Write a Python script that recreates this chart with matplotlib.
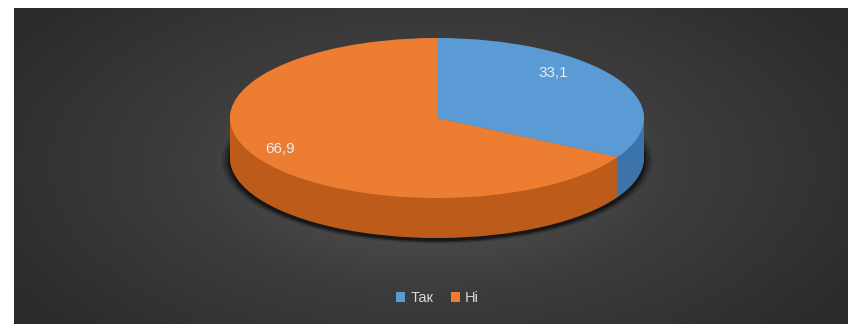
import numpy as np
import matplotlib.pyplot as plt
from matplotlib.colors import LinearSegmentedColormap

# data
labels = ['Так', 'Ні']
values = [33.1, 66.9]
top_colors = ['#5b9bd5', '#ed7d31']
side_colors = ['#3b73aa', '#bd5c1a']
# label positions on the top face (Excel style placement)
label_pos = [(0.56, 0.56), (-0.76, -0.39)]

W, H = 848, 324
fig = plt.figure(figsize=(W / 100, H / 100), dpi=100)
fig.patch.set_facecolor('white')

# dark panel with radial gradient
bg = fig.add_axes([14 / W, 0, (W - 14) / W, (H - 8) / H])
yy, xx = np.mgrid[0:1:200j, 0:1:400j]
r = np.sqrt(((xx - 0.5) / 0.6) ** 2 + ((yy - 0.5) / 0.8) ** 2)
cmap = LinearSegmentedColormap.from_list('bg', ['#595959', '#3c3c3c', '#2b2b2b'])
bg.imshow(np.clip(r, 0, 1), cmap=cmap, aspect='auto', extent=(0, 1, 0, 1), vmin=0, vmax=1)
bg.axis('off')

# pie axes: 1 unit = 207 px horizontally, 80 px vertically
ax = fig.add_axes([230 / W, 78 / H, 414 / W, 208 / H])

kw = dict(startangle=90, counterclock=False, wedgeprops=dict(linewidth=0))

# soft shadow under the pie
for k, a in zip([1.04, 1.025, 1.01], [0.15, 0.25, 0.45]):
    ax.pie(values, colors=['black', 'black'], radius=k, center=(0.0, -0.53),
           wedgeprops=dict(linewidth=0, alpha=a), startangle=90, counterclock=False)

# side of the pie: stacked layers
for d in np.linspace(0.5, 0.01, 50):
    ax.pie(values, colors=side_colors, center=(0, -d), **kw)

# top face
wedges, _, autotexts = ax.pie(values, colors=top_colors, center=(0, 0),
                              autopct=lambda p: f'{p:.1f}'.replace('.', ','),
                              pctdistance=0.8, **kw)
for t, pos in zip(autotexts, label_pos):
    t.set_position(pos)
    t.set_color('#ececec')
    t.set_fontsize(11)
    t.set_family(['Liberation Sans Narrow', 'Liberation Sans', 'DejaVu Sans'])

ax.set_aspect('auto')
ax.set_xlim(-1, 1)
ax.set_ylim(-1.6, 1.0)
ax.axis('off')

leg = fig.legend(wedges, labels, loc='center', bbox_to_anchor=(0.516, 0.08), ncol=2,
                 frameon=False, labelcolor='#d9d9d9',
                 handlelength=0.6, handleheight=0.6, handletextpad=0.35,
                 columnspacing=1.2, prop={'family': ['Liberation Sans', 'DejaVu Sans'], 'size': 10.5})

fig.savefig('out.png', dpi=100, facecolor='white')
